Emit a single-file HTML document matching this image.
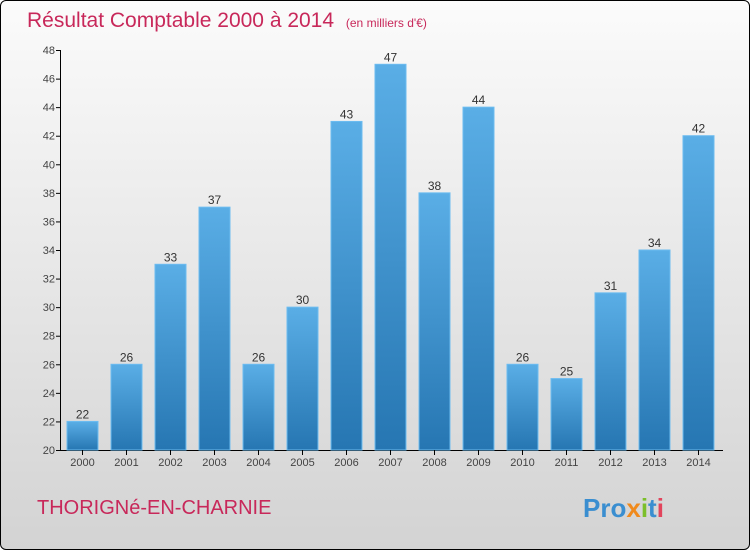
<!DOCTYPE html>
<html><head><meta charset="utf-8"><style>
body{margin:0;}
#c{width:748px;height:548px;border:1px solid #000;border-radius:6px;background:linear-gradient(#fbfbfb,#d3d3d3);position:relative;overflow:hidden;font-family:"Liberation Sans",sans-serif;}
</style></head><body>
<div id="c">
<svg id="s" width="748" height="548" xmlns="http://www.w3.org/2000/svg">
<defs><linearGradient id="g" x1="0" y1="0" x2="0" y2="1"><stop offset="0" stop-color="#5aaee6"/><stop offset="1" stop-color="#2676b2"/></linearGradient></defs>
<text x="26" y="26" font-size="21" fill="#c8285a">Résultat Comptable 2000 à 2014 <tspan font-size="12" dx="6">(en milliers d'€)</tspan></text>
<text x="36" y="513" font-size="20" fill="#c8285a">THORIGNé-EN-CHARNIE</text>
<text x="582" y="516" font-size="26" font-weight="bold" fill="#3a8ed0"><tspan fill="#3a8ed0">Pro</tspan><tspan fill="#f08a1c">x</tspan><tspan fill="#7cbf2a">i</tspan><tspan fill="#3a8ed0">t</tspan><tspan fill="#e2445c">i</tspan></text>
<g id="plot"></g>
</svg>
</div>
<script>
const years=["2000","2001","2002","2003","2004","2005","2006","2007","2008","2009","2010","2011","2012","2013","2014"];
const values=[22,26,33,37,26,30,43,47,38,44,26,25,31,34,42];
const ticks=[20,22,24,26,28,30,32,34,36,38,40,42,44,46,48];
const ns="http://www.w3.org/2000/svg";
const g=document.getElementById('plot');
const y0=449,yMin=20,yMax=48,yTop=49;
const ys=v=>y0-(v-yMin)/(yMax-yMin)*(y0-yTop);
const xs=i=>81.5+i*44;
function mk(t,a){const e=document.createElementNS(ns,t);for(const k in a)e.setAttribute(k,a[k]);g.appendChild(e);return e;}
let ax=mk('line',{x1:59.5,y1:yTop,x2:59.5,y2:y0+0.5,stroke:'#000'});


let bx=mk('line',{x1:59,y1:y0+0.5,x2:722,y2:y0+0.5,stroke:'#000'});


ticks.forEach(t=>{
 const tk=mk('line',{x1:55,x2:60,y1:ys(t)+0.5,y2:ys(t)+0.5,stroke:'#000'});
 
 
 const tl=mk('text',{x:54,y:ys(t)+4,'text-anchor':'end','font-size':'11',fill:'#444'});
 tl.textContent=t;
 
 
});
values.forEach((v,i)=>{
 const x=xs(i);
 const r=mk('rect',{x:x-15.5,y:ys(v),width:31,height:y0-ys(v),fill:'url(#g)',stroke:'#6cbcf0','stroke-width':1});
 
 
 const l=mk('text',{x:x,y:ys(v)-3,'text-anchor':'middle','font-size':'12',fill:'#333'});
 l.textContent=v;
 
 
 const tk=mk('line',{x1:x,x2:x,y1:y0,y2:y0+5,stroke:'#000'});
 
 
 const xl=mk('text',{x:x,y:y0+16,'text-anchor':'middle','font-size':'11',fill:'#444'});
 xl.textContent=years[i];
 
 
});
</script>
</body></html>
